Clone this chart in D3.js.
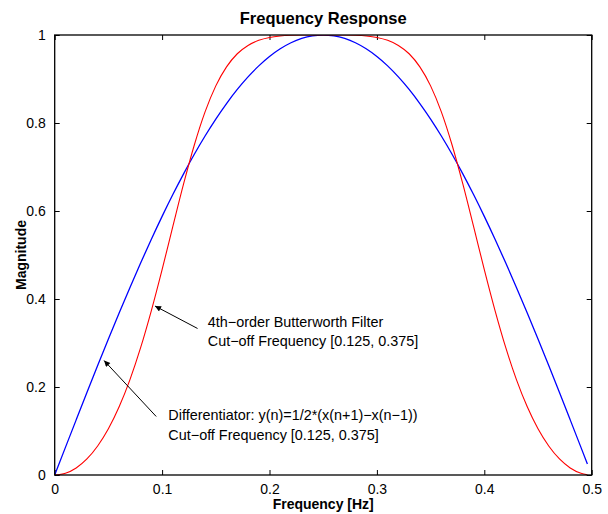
<!DOCTYPE html>
<html>
<head>
<meta charset="utf-8">
<script src="https://cdn.jsdelivr.net/npm/d3@7"></script>
<style>
  html, body { margin: 0; padding: 0; background: #fff; }
  svg { display: block; font-family: "Liberation Sans", Arial, Helvetica, sans-serif; }
</style>
</head>
<body>
<svg id="chart" width="608" height="514"></svg>
<script>
// ---- Data ----
const freq = [0, 0.01, 0.02, 0.03, 0.04, 0.05, 0.06, 0.07, 0.08, 0.09,
  0.10, 0.11, 0.12, 0.13, 0.14, 0.15, 0.16, 0.17, 0.18, 0.19,
  0.20, 0.21, 0.22, 0.23, 0.24, 0.25, 0.26, 0.27, 0.28, 0.29,
  0.30, 0.31, 0.32, 0.33, 0.34, 0.35, 0.36, 0.37, 0.38, 0.39,
  0.40, 0.41, 0.42, 0.43, 0.44, 0.45, 0.46, 0.47, 0.48, 0.49, 0.496];

const differentiator = [0, 0.0628, 0.1253, 0.1874, 0.2487, 0.3090, 0.3681, 0.4258, 0.4818, 0.5358,
  0.5878, 0.6374, 0.6845, 0.7290, 0.7705, 0.8090, 0.8443, 0.8763, 0.9048, 0.9298,
  0.9511, 0.9686, 0.9823, 0.9921, 0.9980, 1.0000, 0.9980, 0.9921, 0.9823, 0.9686,
  0.9511, 0.9298, 0.9048, 0.8763, 0.8443, 0.8090, 0.7705, 0.7290, 0.6845, 0.6374,
  0.5878, 0.5358, 0.4818, 0.4258, 0.3681, 0.3090, 0.2487, 0.1874, 0.1253, 0.0628, 0.0251];

const butterworth = [0, 0.0040, 0.0160, 0.0364, 0.0658, 0.1050, 0.1549, 0.2162, 0.2893, 0.3737,
  0.4668, 0.5648, 0.6614, 0.7500, 0.8252, 0.8844, 0.9276, 0.9574, 0.9763, 0.9879,
  0.9945, 0.9978, 0.9993, 0.9999, 1.0000, 1.0000, 1.0000, 0.9999, 0.9993, 0.9978,
  0.9945, 0.9879, 0.9763, 0.9574, 0.9276, 0.8844, 0.8252, 0.7500, 0.6614, 0.5648,
  0.4668, 0.3737, 0.2893, 0.2162, 0.1549, 0.1050, 0.0658, 0.0364, 0.0160, 0.0040, 0.0006];

const xTicks = [0, 0.1, 0.2, 0.3, 0.4, 0.5];
const yTicks = [0, 0.2, 0.4, 0.6, 0.8, 1];

const titleText = "Frequency Response";
const xLabel = "Frequency [Hz]";
const yLabel = "Magnitude";

const annotations = [
  { lines: ["4th\u2212order Butterworth Filter", "Cut\u2212off Frequency [0.125, 0.375]"],
    tip: [0.0934, 0.384], tail: [0.1330, 0.333], text: [0.1425, 0.337] },
  { lines: ["Differentiator: y(n)=1/2*(x(n+1)\u2212x(n\u22121))", "Cut\u2212off Frequency [0.125, 0.375]"],
    tip: [0.0460, 0.260], tail: [0.0945, 0.133], text: [0.1058, 0.124] }
];

// ---- Layout ----
const svg = d3.select("#chart");
const margin = { left: 54.7, right: 608 - 591.7, top: 35, bottom: 514 - 475 };
const W = 608, H = 514;

const x = d3.scaleLinear().domain([0, 0.5]).range([margin.left, W - margin.right]);
const y = d3.scaleLinear().domain([0, 1]).range([H - margin.bottom, margin.top]);

const tickLen = 5;

// Axes (inward ticks)
const xAxisB = d3.axisBottom(x).tickValues(xTicks).tickSize(-tickLen).tickPadding(9)
  .tickFormat(d => d3.format("~g")(d));
const xAxisT = d3.axisTop(x).tickValues(xTicks).tickSize(-tickLen).tickFormat("");
const yAxisL = d3.axisLeft(y).tickValues(yTicks).tickSize(-tickLen).tickPadding(9)
  .tickFormat(d => d3.format("~g")(d));
const yAxisR = d3.axisRight(y).tickValues(yTicks).tickSize(-tickLen).tickFormat("");

function styleAxis(g) {
  g.select(".domain").remove();
  g.selectAll(".tick line").attr("stroke", "#000").attr("stroke-width", 1);
  g.selectAll(".tick text").attr("fill", "#000").style("font-size", "14px")
    .style("font-family", "'Liberation Sans', Arial, sans-serif");
}

svg.append("g").attr("transform", `translate(0,${y(0)})`).call(xAxisB).call(styleAxis);
svg.append("g").attr("transform", `translate(0,${y(1)})`).call(xAxisT).call(styleAxis);
svg.append("g").attr("transform", `translate(${x(0)},0)`).call(yAxisL).call(styleAxis);
svg.append("g").attr("transform", `translate(${x(0.5)},0)`).call(yAxisR).call(styleAxis);

// Clip
svg.append("clipPath").attr("id", "clip").append("rect")
  .attr("x", x(0)).attr("y", y(1)).attr("width", x(0.5) - x(0)).attr("height", y(0) - y(1));

const line = (vals) => d3.line()
  .x((d, i) => x(freq[i]))
  .y((d) => y(d))
  .curve(d3.curveMonotoneX)(vals);

const plot = svg.append("g").attr("clip-path", "url(#clip)");
plot.append("path").attr("d", line(differentiator))
  .attr("fill", "none").attr("stroke", "#0000ff").attr("stroke-width", 1.3);
plot.append("path").attr("d", line(butterworth))
  .attr("fill", "none").attr("stroke", "#ff0000").attr("stroke-width", 1.1);

// Frame
svg.append("rect").attr("x", x(0)).attr("y", y(1))
  .attr("width", x(0.5) - x(0)).attr("height", y(0) - y(1))
  .attr("fill", "none").attr("stroke", "#000").attr("stroke-width", 1.3);

// Title and labels
svg.append("text").attr("x", (x(0) + x(0.5)) / 2).attr("y", 23.5)
  .attr("text-anchor", "middle").style("font-weight", "bold").style("font-size", "16.5px")
  .text(titleText);
svg.append("text").attr("x", (x(0) + x(0.5)) / 2).attr("y", 509)
  .attr("text-anchor", "middle").style("font-weight", "bold").style("font-size", "14px")
  .text(xLabel);
svg.append("text").attr("transform", `translate(25.5,${(y(0) + y(1)) / 2}) rotate(-90)`)
  .attr("text-anchor", "middle").style("font-weight", "bold").style("font-size", "14px")
  .text(yLabel);

// Arrow marker
svg.append("defs").append("marker").attr("id", "arrow")
  .attr("viewBox", "0 0 10 10").attr("refX", 10).attr("refY", 5)
  .attr("markerWidth", 11).attr("markerHeight", 6).attr("markerUnits", "userSpaceOnUse")
  .attr("orient", "auto")
  .append("path").attr("d", "M0,0 L10,5 L0,10 Z").attr("fill", "#000");

annotations.forEach(a => {
  svg.append("line")
    .attr("x1", x(a.tail[0])).attr("y1", y(a.tail[1]))
    .attr("x2", x(a.tip[0])).attr("y2", y(a.tip[1]))
    .attr("stroke", "#000").attr("stroke-width", 1)
    .attr("marker-end", "url(#arrow)");
  const t = svg.append("text").attr("x", x(a.text[0])).attr("y", y(a.text[1]))
    .style("font-size", "14.4px").attr("fill", "#000");
  a.lines.forEach((l, i) => {
    t.append("tspan").attr("x", x(a.text[0])).attr("dy", i === 0 ? 0 : 19.5).text(l);
  });
});
</script>
</body>
</html>
